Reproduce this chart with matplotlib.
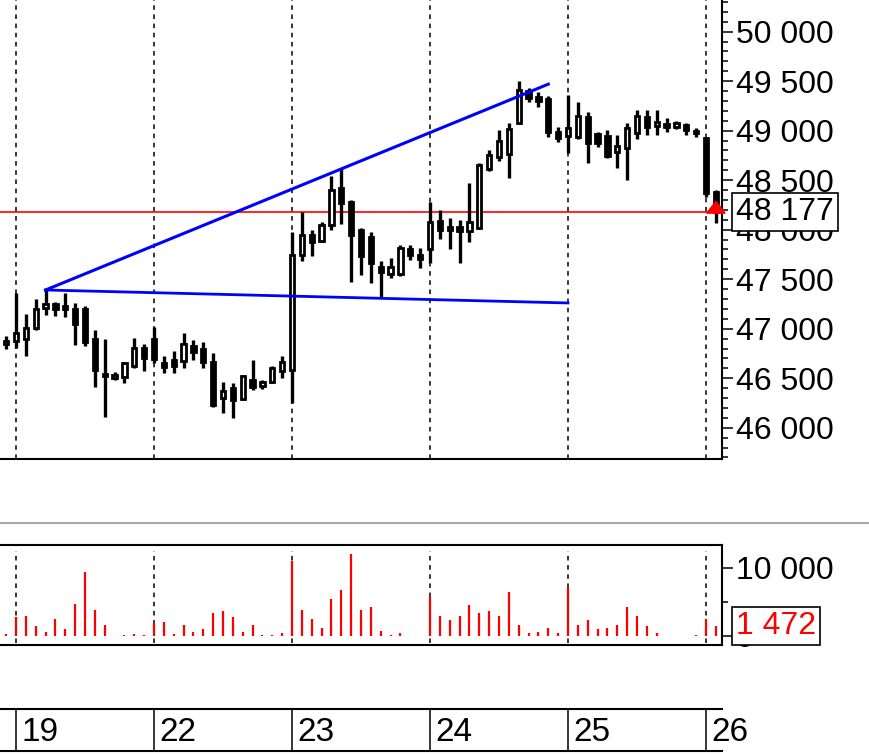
import matplotlib
matplotlib.use('Agg')
import matplotlib.pyplot as plt
import matplotlib.transforms as mtransforms
from matplotlib.ticker import MultipleLocator, FixedLocator, FuncFormatter
from matplotlib.lines import Line2D
from matplotlib.patches import Polygon

plt.rcParams['font.family'] = ['Liberation Sans', 'DejaVu Sans']

# ---------------- data ----------------
day_labels = ['19', '22', '23', '24', '25', '26']
day_start_bar = [1, 15, 29, 43, 57, 71]

opens = [46850, 46880, 46900, 47010, 47210, 47250, 47230, 47200, 47200, 46900,
         46540, 46500, 46510, 46620, 46810, 46900, 46650, 46680, 46670, 46830,
         46790, 46660, 46300, 46400, 46290, 46480, 46420, 46460, 46570, 46580,
         47740, 47950, 47890, 48050, 48420, 48280, 48000, 47930, 47620, 47550,
         47550, 47810, 47740, 47800, 48090, 48000, 48030, 47990, 48020, 48610,
         48730, 48760, 49080, 49400, 49340, 49320, 48990, 48950, 48940, 49140,
         48970, 48950, 48780, 48830, 48980, 49140, 49050, 49070, 49040, 49060,
         49000, 48923, 48380]
highs = [46930, 47360, 47150, 47300, 47391, 47270, 47360, 47260, 47230, 46990,
         46900, 46560, 46660, 46906, 46850, 47020, 46720, 46770, 46960, 46890,
         46870, 46750, 46460, 46450, 46530, 46680, 46480, 46620, 46720, 47980,
         48180, 48000, 48080, 48540, 48620, 48300, 48020, 47980, 47680, 47710,
         47845, 47845, 47815, 48280, 48200, 48115, 48100, 48470, 48670, 48805,
         49005, 49075, 49500, 49430, 49395, 49350, 49040, 49360, 49290, 49190,
         48990, 49005, 48955, 49075, 49210, 49210, 49210, 49125, 49100, 49075,
         49025, 48930, 48400]
lows = [46790, 46810, 46720, 46990, 47140, 47130, 47120, 46840, 46830, 46410,
        46110, 46480, 46450, 46600, 46570, 46650, 46550, 46550, 46600, 46680,
        46600, 46210, 46150, 46100, 46280, 46380, 46390, 46450, 46500, 46250,
        47680, 47730, 47880, 48000, 48060, 47475, 47540, 47460, 47320, 47510,
        47530, 47690, 47610, 47660, 47910, 47810, 47660, 47880, 48010, 48590,
        48690, 48520, 49070, 49290, 49240, 48940, 48890, 48770, 48920, 48670,
        48840, 48725, 48620, 48500, 48920, 48955, 48955, 48990, 49020, 48955,
        48940, 48334, 48065]
closes = [46880, 46960, 47010, 47200, 47250, 47200, 47200, 47050, 46870, 46580,
          46520, 46530, 46650, 46810, 46700, 46690, 46610, 46620, 46850, 46760,
          46660, 46230, 46370, 46280, 46520, 46410, 46460, 46600, 46660, 47745,
          47950, 47880, 48050, 48400, 48265, 47950, 47730, 47660, 47570, 47620,
          47820, 47740, 47700, 48080, 48000, 48030, 47990, 48080, 48650, 48750,
          48900, 49020, 49410, 49330, 49300, 48990, 48930, 49030, 49150, 48880,
          48880, 48740, 48850, 49030, 49150, 49040, 49090, 49040, 49080, 49010,
          48980, 48368, 48177]
volumes = [200, 2700, 2900, 1430, 500, 2450, 940, 4660, 9320, 3780,
           1570, 0, 100, 300, 150, 1820, 2060, 200, 1570, 500,
           940, 3380, 3630, 2700, 500, 1570, 150, 150, 400, 11030,
           3780, 2450, 1180, 5350, 6670, 11960, 3780, 4220, 740, 100,
           400, 0, 0, 5640, 2900, 2300, 2900, 4510, 3380, 3630,
           2900, 6470, 1570, 400, 500, 1180, 400, 6960, 1570, 2250,
           940, 1180, 1570, 4220, 2900, 1430, 350, 0, 0, 0,
           100, 2450, 1472]
last_price = 48177
last_volume = 1472
upper_trend_x = [4, 55]
upper_trend_y = [47391, 49470]
lower_trend_x = [4, 57]
lower_trend_y = [47391, 47260]

# ---------------- layout ----------------
W, H = 870, 754
fig = plt.figure(figsize=(W / 100, H / 100), dpi=100)


def box(x0, y0, x1, y1):
    return [x0 / W, 1 - y1 / H, (x1 - x0) / W, (y1 - y0) / H]


ax = fig.add_axes(box(0, 0, 722, 459))
axv = fig.add_axes(box(0, 545, 722, 645))
axd = fig.add_axes(box(0, 709, 722, 751))

xlim = (-0.62, 72.62)
n = len(opens)
xs = list(range(n))
FS = 23

fmt = FuncFormatter(lambda v, p: '{:,}'.format(int(v)).replace(',', ' '))

# ---------------- price panel ----------------
ax.set_xlim(*xlim)
ax.set_ylim(45684, 50320)
for s in ['left', 'top']:
    ax.spines[s].set_visible(False)
for s in ['right', 'bottom']:
    ax.spines[s].set_linewidth(1.5)
ax.set_xticks([])
ax.yaxis.tick_right()
ax.yaxis.set_major_locator(MultipleLocator(500))
ax.yaxis.set_minor_locator(MultipleLocator(100))
ax.yaxis.set_major_formatter(fmt)
ax.tick_params(axis='y', which='major', length=8, width=1.1, pad=2, labelsize=FS)
ax.tick_params(axis='y', which='minor', length=4, width=1.1)

for d in day_start_bar:
    ax.axvline(d, color='black', lw=1.1, ls=(0, (3, 3)), zorder=1)

ax.axhline(last_price, color='red', lw=1.2, zorder=1.5)

ax.vlines(xs, lows, highs, color='black', lw=2.4, zorder=2.5)
bottoms = [min(o, c) for o, c in zip(opens, closes)]
heights = [max(abs(c - o), 15) for o, c in zip(opens, closes)]
colors = ['white' if c >= o else 'black' for o, c in zip(opens, closes)]
ax.bar(xs, heights, bottom=bottoms, width=0.44, color=colors,
       edgecolor='black', linewidth=2.0, zorder=3)

ax.plot(upper_trend_x, upper_trend_y, color='#0000ff', lw=2.2, zorder=4)
ax.plot(lower_trend_x, lower_trend_y, color='#0000ff', lw=2.0, zorder=4)

# last price marker
li = n - 1
tri = Polygon([[li - 0.93, last_price - 10], [li + 0.93, last_price - 10],
               [li, last_price + 110]], closed=True, color='red',
              clip_on=False, zorder=6)
ax.add_patch(tri)

tr = mtransforms.blended_transform_factory(fig.transFigure, ax.transData)
ax.text(736 / W, last_price, fmt(last_price), transform=tr, ha='left',
        va='center', fontsize=FS, color='black', zorder=10,
        bbox=dict(boxstyle='square,pad=0.12', fc='white', ec='black', lw=1.2))

# ---------------- volume panel ----------------
axv.set_xlim(*xlim)
axv.set_ylim(-1368, 13338)
axv.spines['left'].set_visible(False)
for s in ['right', 'bottom', 'top']:
    axv.spines[s].set_linewidth(1.5)
axv.set_xticks([])
axv.yaxis.tick_right()
axv.yaxis.set_major_locator(FixedLocator([0, 10000]))
axv.yaxis.set_minor_locator(FixedLocator([5000]))
axv.yaxis.set_major_formatter(fmt)
axv.tick_params(axis='y', which='major', length=8, width=1.1, pad=2, labelsize=FS)
axv.tick_params(axis='y', which='minor', length=4, width=1.1)
for d in day_start_bar:
    axv.axvline(d, ymin=0.02, ymax=0.94, color='black', lw=1.1,
                ls=(0, (3, 3)), zorder=1)
axv.vlines(xs, 0, volumes, color='#ff0000', lw=1.6, zorder=3)
trv = mtransforms.blended_transform_factory(fig.transFigure, axv.transData)
axv.text(736 / W, last_volume, fmt(last_volume), transform=trv, ha='left',
         va='center', fontsize=FS, color='red', zorder=10,
         bbox=dict(boxstyle='square,pad=0.12', fc='white', ec='black', lw=1.2))

# ---------------- date axis ----------------
axd.set_xlim(*xlim)
axd.set_ylim(0, 1)
axd.set_xticks([])
axd.set_yticks([])
for s in ['left', 'right']:
    axd.spines[s].set_visible(False)
for s in ['top', 'bottom']:
    axd.spines[s].set_linewidth(1.5)
for d, lab in zip(day_start_bar, day_labels):
    axd.axvline(d, color='black', lw=1.1)
    axd.text(d + 0.55, 0.45, lab, ha='left', va='center', fontsize=FS + 1,
             clip_on=False)

# separator line between panels
fig.add_artist(Line2D([0, 1], [1 - 523 / H, 1 - 523 / H],
                      transform=fig.transFigure, color='#a8a8a8', lw=1.5))

fig.savefig('out.png', dpi=100, facecolor='white')
